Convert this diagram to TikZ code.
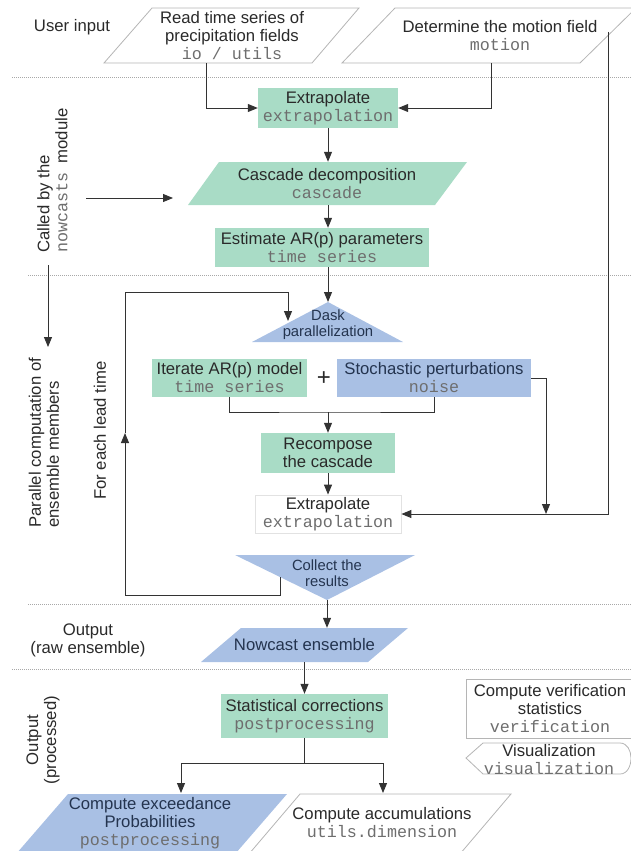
\documentclass[tikz,border=0pt]{standalone}
\usepackage{fontspec}
\setmainfont{Liberation Sans}
\setsansfont{Liberation Sans}
\setmonofont{Liberation Mono}
\usetikzlibrary{arrows.meta}
\definecolor{grn}{HTML}{A9DCC6}
\definecolor{blu}{HTML}{A9C0E4}
\definecolor{txt}{HTML}{2A2A2A}
\definecolor{navy}{HTML}{24344F}
\definecolor{codegray}{HTML}{6E6E6E}
\definecolor{edge}{HTML}{B5B5B5}
\definecolor{faint}{HTML}{E2E2E2}
\definecolor{sepc}{HTML}{A8A8A8}
\definecolor{lnc}{HTML}{333333}
\newcommand{\codetxt}[1]{{\ttfamily\color{codegray}#1}}
\begin{document}
\begin{tikzpicture}[x=1pt,y=-1pt,
  lbl/.style={inner sep=0pt, align=center, text=txt, font=\fontsize{16.7}{18}\selectfont},
  tri/.style={inner sep=0pt, align=center, text=navy, font=\fontsize{14.8}{16}\selectfont},
  gbox/.style={lbl, fill=grn},
  bbox/.style={lbl, fill=blu, text=navy},
  wbox/.style={lbl, fill=white, draw=edge, line width=0.8pt},
  wpara/.style={fill=white, draw=edge, line width=0.8pt},
  gpara/.style={fill=grn},
  bpara/.style={fill=blu},
  tshape/.style={fill=blu},
  ln/.style={draw=lnc, line width=1pt},
  arr/.style={ln, -{Triangle[length=10pt,width=8pt]}},
  sep/.style={draw=sepc, line width=1pt, dash pattern=on 1.2pt off 0.8pt}
]
\useasboundingbox (0,0) rectangle (631,851);
\clip (0,0) rectangle (631,851);

% separators
\draw[sep] (12,77) -- (631,77);
\draw[sep] (28,275) -- (631,275);
\draw[sep] (28,604) -- (631,604);
\draw[sep] (12,669) -- (631,669);

% side labels
\node[lbl] (ui) at (72,27) {User input};
\node[lbl, rotate=90, anchor=west, align=left] (cb) at (52.5,253) {Called by the\\\codetxt{nowcasts}\ \ module};
\node[lbl, rotate=90, anchor=west, align=left] (pc) at (44,528) {Parallel computation of\\ensemble members};
\node[lbl, rotate=90, anchor=west, align=left] (fe) at (100,500) {For each lead time};
\node[lbl] (oraw) at (88,640) {Output\\(raw ensemble)};
\node[lbl, rotate=90] (opro) at (43,740) {Output\\(processed)};

% input parallelograms
\filldraw[wpara] (152,8) -- (359,8) -- (312,63) -- (104,63) -- cycle;
\node[lbl, minimum height=55pt, minimum width=150pt] (rd) at (232,35.5) {Read time series of\\precipitation fields\\\codetxt{io / utils}};
\filldraw[wpara] (395,8) -- (636,8) -- (580,63) -- (342,63) -- cycle;
\node[lbl, minimum height=55pt, minimum width=150pt] (mo) at (500,35.5) {Determine the motion field\\\codetxt{motion}};

% extrapolate 1
\node[gbox, minimum width=140pt, minimum height=40pt] (ex1) at (328,108) {Extrapolate\\\codetxt{extrapolation}};
\draw[arr] ([xshift=-26pt]rd.south) |- (ex1.west);
\draw[arr] ([xshift=-9pt]mo.south) |- (ex1.east);

% cascade
\fill[gpara] (219,162) -- (467,162) -- (435,205) -- (188,205) -- cycle;
\node[lbl, minimum height=43pt, minimum width=200pt] (cas) at (327,183.5) {Cascade decomposition\\\codetxt{cascade}};
\draw[arr] (ex1.south) -- (ex1.south |- cas.north);
\coordinate (ca) at (86,198);
\coordinate (cb2) at (173,198);
\draw[arr] (ca) -- (cb2);

% estimate
\node[gbox, minimum width=214pt, minimum height=39pt] (est) at (322,247.5) {Estimate AR(p) parameters\\\codetxt{time series}};
\draw[arr] (ex1.south |- cas.south) -- (ex1.south |- est.north);

% left arrow parallel
\coordinate (pa) at (48,265);
\coordinate (pb) at (48,347);
\draw[arr] (pa) -- (pb);

% dask triangle
\coordinate (dtop) at (328,302);
\fill[tshape] (dtop) -- (403,342) -- (252,342) -- cycle;
\node[tri] (dask) at (328,325) {Dask\\parallelization};
\draw[arr] (ex1.south |- est.south) -- (dtop);

% iterate + stochastic
\node[gbox, minimum width=155pt, minimum height=38pt] (iter) at (229.5,378) {Iterate AR(p) model\\\codetxt{time series}};
\node[lbl, font=\fontsize{24}{24}\selectfont] (pl) at (324,379) {+};
\node[bbox, minimum width=194pt, minimum height=38pt] (sto) at (434,378) {Stochastic perturbations\\\codetxt{noise}};

% recompose
\node[gbox, minimum width=134pt, minimum height=40pt] (rec) at (328,453) {Recompose\\the cascade};
\coordinate (mg) at (328,412);
\draw[ln] (iter.south) |- (mg) -| (sto.south);
\draw[arr] (mg) -- (rec.north);

% extrapolate 2
\node[lbl, fill=white, draw=faint, line width=0.8pt, minimum width=146pt, minimum height=38pt] (ex2) at (328,514) {Extrapolate\\\codetxt{extrapolation}};
\draw[arr] (rec.south) -- (ex2.north);
\coordinate (st2) at (546,514);
\draw[arr] (sto.east) -| (st2);
\coordinate (mr) at (608,32);
\draw[arr] (mr) |- (ex2.east);

% collect triangle
\coordinate (ctip) at (327,600);
\fill[tshape] (235,555) -- (415,555) -- (ctip) -- cycle;
\node[tri] (col) at (327,573) {Collect the\\results};

% loop
\coordinate (lp0) at (280,577);
\coordinate (lpa) at (280,595);
\coordinate (lpb) at (125,595);
\coordinate (lpm) at (125,433);
\coordinate (lpc) at (125,292);
\coordinate (lpd) at (288,292);
\coordinate (lpe) at (288,321);
\draw[arr] (lp0) -- (lpa) -- (lpb) -- (lpm);
\draw[ln] (lpm) -- (lpc);
\draw[arr] (lpc) -- (lpd) -- (lpe);

% nowcast ensemble
\fill[bpara] (241,628) -- (408,628) -- (368,662) -- (201,662) -- cycle;
\node[lbl, text=navy, minimum height=34pt, minimum width=140pt] (nc) at (304.5,645) {Nowcast ensemble};
\draw[arr] (ctip) -- (ctip |- nc.north);

% statistical corrections
\node[gbox, minimum width=167pt, minimum height=44pt] (stc) at (304.5,716) {Statistical corrections\\\codetxt{postprocessing}};
\draw[arr] (nc.south) -- (stc.north);

% verification & visualization
\node[wbox, minimum width=168pt, minimum height=59pt] (ver) at (550,708.5) {Compute verification\\statistics\\\codetxt{verification}};
\filldraw[wpara] (466,758) -- (483,743) -- (620,743) to[out=0,in=90] (631,758) to[out=-90,in=0] (620,774) -- (483,774) -- cycle;
\node[lbl] (vis) at (549,760) {Visualization\\\codetxt{visualization}};

% bottom outputs
\fill[bpara] (68,794) -- (287,794) -- (229,861) -- (10,861) -- cycle;
\node[lbl, text=navy] (exc) at (150,823) {Compute exceedance\\Probabilities\\\codetxt{postprocessing}};
\filldraw[wpara] (300,794) -- (511,794) -- (454,861) -- (243,861) -- cycle;
\node[lbl] (acc) at (382,823) {Compute accumulations\\\codetxt{utils.dimension}};

\coordinate (fk) at (304.5,763);
\coordinate (fl) at (181,793);
\coordinate (fr) at (383,793);
\draw[ln] (stc.south) -- (fk);
\draw[arr] (fk) -| (fl);
\draw[arr] (fk) -| (fr);
\end{tikzpicture}
\end{document}
